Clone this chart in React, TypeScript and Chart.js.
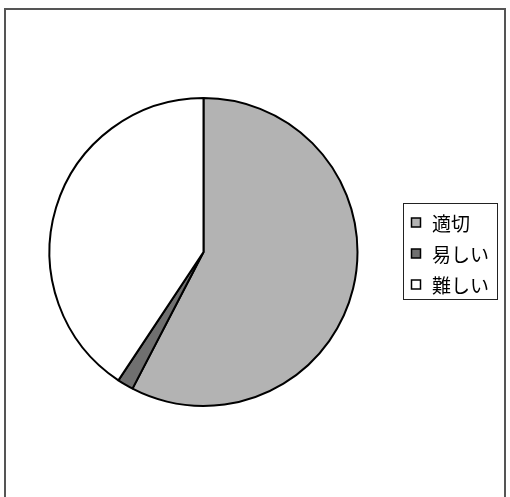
import React, { useEffect, useRef } from "react";
import { Chart, registerables } from "chart.js";

Chart.register(...registerables);

const categories = ["適切", "易しい", "難しい"];
const values = [34, 1, 24];
const colors = ["#b3b3b3", "#707070", "#ffffff"];

const legendPlugin = {
  id: "boxLegend",
  afterDraw(chart: any) {
    const ctx = chart.ctx as CanvasRenderingContext2D;
    ctx.save();
    const bx = 403.5, by = 203.5, bw = 94, bh = 96;
    ctx.strokeStyle = "#222";
    ctx.lineWidth = 1;
    ctx.strokeRect(bx, by, bw, bh);
    ctx.font = '19px "Noto Sans CJK JP"';
    ctx.textBaseline = "middle";
    ctx.fillStyle = "#000";
    categories.forEach((c, i) => {
      const cy = 222.5 + i * 31;
      ctx.fillStyle = colors[i];
      ctx.fillRect(411.5, cy - 4.5, 9, 9);
      ctx.strokeStyle = "#000";
      ctx.lineWidth = 1.5;
      ctx.strokeRect(411.5, cy - 4.5, 9, 9);
      ctx.fillStyle = "#000";
      ctx.fillText(c, 432, cy + 1);
    });
    ctx.restore();
  },
};

export default function App() {
  const ref = useRef<HTMLCanvasElement>(null);
  useEffect(() => {
    const chart = new Chart(ref.current!, {
      type: "pie",
      data: {
        labels: categories,
        datasets: [
          {
            data: values,
            backgroundColor: colors,
            borderColor: "#000",
            borderWidth: 2,
          },
        ],
      },
      options: {
        responsive: false,
        animation: false,
        layout: { padding: { left: 48, right: 151, top: 97, bottom: 90 } },
        plugins: {
          legend: { display: false },
          tooltip: { enabled: false },
        },
      },
      plugins: [legendPlugin],
    });
    return () => chart.destroy();
  }, []);
  return (
    <div style={{ position: "fixed", left: 0, top: 0, width: 510, height: 497, background: "#fff" }}>
      <div
        style={{
          position: "absolute",
          left: 4,
          top: 8,
          width: 498,
          height: 489,
          borderLeft: "2px solid #555",
          borderTop: "2px solid #555",
          borderRight: "2px solid #555",
        }}
      />
      <canvas ref={ref} width={510} height={497} style={{ position: "absolute", left: 0, top: 0 }} />
    </div>
  );
}
